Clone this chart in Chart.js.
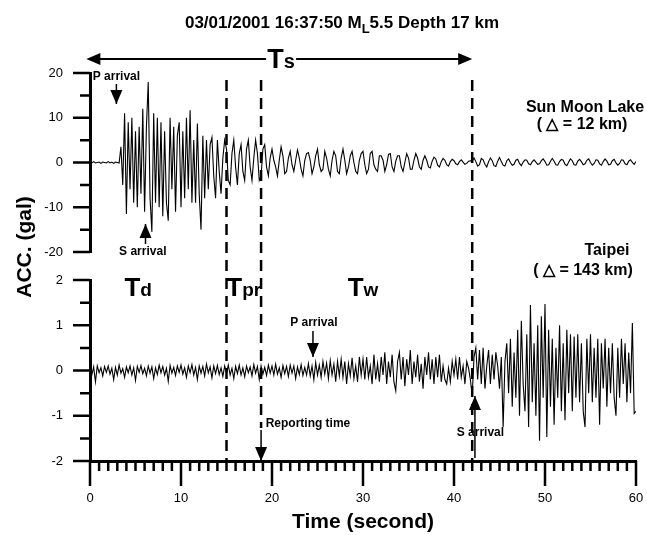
<!DOCTYPE html>
<html lang="en">
<head>
  <meta charset="UTF-8">
  <title>Sun Moon Lake / Taipei accelerograms</title>
  <script src="https://cdn.jsdelivr.net/npm/chart.js"></script>
  <style>
    body { margin: 0; background: #fff; }
    #wrap { width: 647px; height: 535px; }
  </style>
</head>
<body>
  <div id="wrap"><canvas id="quakeChart" width="647" height="535"></canvas></div>

  <script>
    // sample interval of the traces (s)
    const DT = 0.2;

    // Sun Moon Lake acceleration (gal), one value every DT from 0 s
    const sunMoonLake = [
      0.1, -0.1, 0.2, -0.1, 0, 0.1, -0.2, 0.1, 0, -0.1,
      0.2, -0.1, 0.1, -0.2, 0.1, 0, -0.1, 3.5, -5, 11,
      -11.5, 9, -6, 10, -9, 7, -10, 8, -7, 12,
      -11, 8, 18, -8, -15.5, 11, -9, 10, -10, 9,
      -12, 7, -9, -13, 10, -6, 8, -11, 6, 9,
      -10, 7, -8, 10, -6, 11.7, -9, 5, -9, 8.7,
      -7, -15, 6, -8, 5, -6, 4, 5.6, -3, -8,
      5, -2, -7, 1, 5, 3, -4, -5, 2, 5,
      -1, -5, 2, 4, -2, -4, 3, 5, -1, -4,
      1, 5, 2, -4, -3, 3, 4, -1, -3, 1,
      3, 0.5, -1, -3, 0.5, 3.5, 1.5, -2.5, -2, 1,
      2.5, -0.5, -2, 0.5, 2.8, 1, -1.5, -3, 0.5, 2,
      2.2, 0.5, -2.5, -1, 1.5, 3, -0.5, -2, -1.5, 2.5,
      1, -1.5, -3, 0.5, 2.5, 1.5, -2, -2.5, 1, 3,
      0.5, -2.5, -1, 1.5, 2.5, 0, -2, -2.5, 0.5, 2,
      2.5, -0.5, -2.5, -1.5, 2, 2.5, -0.5, -1.5, -2, 1.5,
      1.5, 0.5, -2, -0.5, 1.8, 2, -1, -2, 0.3, 1.5,
      1.5, -1, -2, 0, 2, 1, -1.5, -1.5, 0.5, 2,
      1, -1, -1.5, 0.5, 1.5, 0.5, -1, -1.2, 0.3, 1.2,
      0.8, -0.6, -1, 0.2, 0.9, 0.5, -0.5, -0.8, 0.2, 0.7,
      0.4, -0.3, -0.5, 0.2, 0.6, 0.1, -0.4, -0.2, 0.3, 0.4,
      0.3, 1, 0.2, -0.8, -0.5, 0.9, 0.6, -0.4, -1, 0.2,
      1, 0.4, -0.7, -0.9, 0.3, 1.1, 0.2, -0.6, -0.8, 0.4,
      0.8, 0, -0.6, -0.4, 0.5, 0.7, -0.2, -0.7, 0.1, 0.6,
      0.5, -0.3, -0.5, 0.2, 0.6, 0.1, -0.4, -0.3, 0.4, 0.8,
      0.2, -0.6, -0.5, 0.3, 0.9, 0.3, -0.5, -0.6, 0.2, 0.7,
      0.5, -0.4, -0.7, 0.1, 0.8, 0.4, -0.5, -0.6, 0.3, 0.7,
      0.2, -0.5, -0.3, 0.5, 0.8, 0, -0.6, -0.2, 0.6, 0.5,
      -0.3, -0.6, 0.2, 0.8, 0.3, -0.5, -0.4, 0.4, 0.7, -0.1,
      -0.6, -0.2, 0.6, 0.5, -0.3, -0.5, 0.3, 0.6, 0, -0.4,
      0.2
    ];

    // Taipei acceleration (gal), same time base
    const taipei = [
      0.05, -0.1, 0.08, -0.25, 0.1, -0.05, 0.06, -0.12, 0.09, -0.04,
      0.1, -0.08, 0.05, -0.2, 0.07, -0.1, 0.12, -0.06, 0.04, -0.15,
      0.08, -0.05, 0.1, -0.1, 0.06, -0.22, 0.09, -0.04, 0.11, -0.07,
      0.05, -0.12, 0.1, -0.06, 0.08, -0.18, 0.06, -0.09, 0.12, -0.05,
      0.09, -0.1, 0.05, -0.24, 0.11, -0.06, 0.07, -0.11, 0.1, -0.04,
      0.12, -0.08, 0.06, -0.15, 0.1, -0.05, 0.13, -0.1, 0.07, -0.2,
      0.1, -0.06, 0.09, -0.12, 0.14, -0.05, 0.08, -0.16, 0.1, -0.07,
      0.11, -0.09, 0.06, -0.13, 0.1, -0.06, 0.12, -0.1, 0.05, -0.18,
      0.09, -0.07, 0.12, -0.1, 0.06, -0.14, 0.1, -0.05, 0.08, -0.12,
      0.13, -0.06, 0.09, -0.2, 0.1, -0.08, 0.07, -0.11, 0.12, -0.06,
      0.1, -0.1, 0.14, -0.08, 0.06, -0.15, 0.11, -0.07, 0.09, -0.13,
      0.12, -0.06, 0.1, -0.18, 0.08, -0.09, 0.13, -0.11, 0.07, -0.1,
      0.15, -0.12, 0.1, -0.2, 0.18, -0.1, 0.12, -0.15, 0.2, -0.08,
      0.16, -0.18, 0.22, -0.1, 0.14, -0.25, 0.2, -0.12, 0.25, -0.15,
      0.2, -0.3, 0.15, -0.12, 0.28, -0.18, 0.1, -0.25, 0.3, -0.1,
      0.25, -0.2, 0.3, -0.15, 0.1, -0.3, 0.35, -0.2, 0.15, -0.25,
      0.3, -0.1, 0.4, -0.3, 0.2, -0.15, 0.35, -0.25, -0.45, 0.2,
      0.4, -0.2, 0.3, -0.35, 0.25, -0.1, 0.45, -0.3, 0.2, -0.15,
      0.35, -0.25, 0.15, -0.4, 0.3, -0.1, 0.4, -0.2, 0.25, -0.3,
      0.3, -0.15, 0.35, -0.25, 0.1, -0.2, -0.3, 0.05, -0.25, 0.2,
      -0.1, 0.25, -0.2, 0.3, -0.15, 0.1, -0.3, 0.2, 0.05, -0.2,
      -0.55, 0.3, 0.5, -0.2, 0.45, -0.3, 0.5, -0.4, 0.1, 0.45,
      -0.3, 0.35, -0.2, 0.4, 0.1, -0.4, 0.3, -1.25, 0.2, 0.6,
      -0.5, 0.7, -0.8, 0.4, -0.6, 0.9, -1.0, 1.1, -0.3, -0.9,
      0.8, -1.25, 1.45, -0.7, 0.6, -1.0, 1.0, -1.55, 1.2, -0.6,
      1.47, -1.47, 0.9, -0.8, 0.7, -1.2, 0.5, -0.6, 1.0, -0.9,
      0.6, -1.1, 0.9, -0.5, 0.8, -0.9, 0.75, -0.6, 0.8, -0.7,
      0.6, -0.9, -1.25, 0.7, -0.5, 0.8, -0.7, 0.5, -0.6, 0.7,
      -1.2, 0.6, -0.4, 0.7, -0.8, 0.5, -0.5, 0.6, -0.6, -1.0,
      0.5, -0.6, 0.7, -0.3, 0.6, -0.7, 0.4, -0.5, 1.05, -0.95,
      -0.9
    ];

    const xTicks = [0, 10, 20, 30, 40, 50, 60];
    const topTicks = [-20, -10, 0, 10, 20];
    const botTicks = [-2, -1, 0, 1, 2];

    // dashed markers (s): end of Td, reporting time, S arrival in Taipei
    const markerTimes = [15, 18.8, 42];

    const FONT = '"Liberation Sans", Arial, sans-serif';

    function toPoints(arr) {
      return arr.map((v, i) => ({ x: Math.round(i * DT * 10) / 10, y: v }));
    }

    function label(ctx, s, x, y, size, align) {
      ctx.font = 'bold ' + size + 'px ' + FONT;
      ctx.textAlign = align || 'center';
      ctx.textBaseline = 'middle';
      ctx.fillText(s, x, y);
    }

    // pieces of text with their own size and vertical shift, centred on cx
    function compound(ctx, parts, cx, base) {
      let w = 0;
      parts.forEach(p => { ctx.font = 'bold ' + p[1] + 'px ' + FONT; w += ctx.measureText(p[0]).width; });
      let x = cx - w / 2;
      ctx.textAlign = 'left';
      ctx.textBaseline = 'alphabetic';
      parts.forEach(p => {
        ctx.font = 'bold ' + p[1] + 'px ' + FONT;
        ctx.fillText(p[0], x, base + (p[2] || 0));
        x += ctx.measureText(p[0]).width;
      });
      return w;
    }

    function head(ctx, x, y, dir) {
      const L = 14, H = 6;
      ctx.beginPath();
      ctx.moveTo(x, y);
      if (dir === 'down') { ctx.lineTo(x - H, y - L); ctx.lineTo(x + H, y - L); }
      if (dir === 'up') { ctx.lineTo(x - H, y + L); ctx.lineTo(x + H, y + L); }
      if (dir === 'left') { ctx.lineTo(x + L, y - H); ctx.lineTo(x + L, y + H); }
      if (dir === 'right') { ctx.lineTo(x - L, y - H); ctx.lineTo(x - L, y + H); }
      ctx.closePath();
      ctx.fill();
    }

    function arrow(ctx, x, y0, y1) {
      ctx.lineWidth = 1.5;
      ctx.beginPath(); ctx.moveTo(x, y0); ctx.lineTo(x, y1); ctx.stroke();
      head(ctx, x, y1, y1 > y0 ? 'down' : 'up');
    }

    const overlay = {
      id: 'overlay',
      afterDraw(chart) {
        const { ctx, scales: { x, yTop, yBot } } = chart;
        const area = chart.chartArea;
        ctx.save();
        ctx.fillStyle = '#000';
        ctx.strokeStyle = '#000';

        // tick marks
        ctx.lineWidth = 2.5;
        ctx.beginPath();
        for (let t = 0; t <= 60; t++) {
          const px = x.getPixelForValue(t);
          ctx.moveTo(px, area.bottom);
          ctx.lineTo(px, area.bottom + (t % 10 === 0 ? 25 : 10));
        }
        [[yTop, 5], [yBot, 0.5]].forEach(([s, step]) => {
          for (let v = s.min; v <= s.max + 1e-9; v += step) {
            const py = s.getPixelForValue(v);
            const major = Math.abs(v / (step * 2) - Math.round(v / (step * 2))) < 1e-6;
            ctx.moveTo(area.left - (major ? 17 : 10), py);
            ctx.lineTo(area.left, py);
          }
        });
        ctx.stroke();

        // dashed vertical markers
        ctx.lineWidth = 2.5;
        ctx.setLineDash([11, 7]);
        ctx.beginPath();
        markerTimes.forEach(t => {
          const px = x.getPixelForValue(t);
          ctx.moveTo(px, 80);
          ctx.lineTo(px, t === 18.8 ? 428 : area.bottom);
        });
        ctx.stroke();
        ctx.setLineDash([]);

        // Ts span arrow
        const x0 = x.getPixelForValue(-0.4), x1 = x.getPixelForValue(42);
        ctx.lineWidth = 2;
        ctx.beginPath(); ctx.moveTo(x0 + 6, 59); ctx.lineTo(x1 - 6, 59); ctx.stroke();
        head(ctx, x0, 59, 'left');
        head(ctx, x1, 59, 'right');
        const xs = x.getPixelForValue(21);
        ctx.fillStyle = '#fff';
        ctx.fillRect(xs - 15, 46, 30, 26);
        ctx.fillStyle = '#000';
        compound(ctx, [['T', 27], ['s', 20]], xs, 68);

        // title
        compound(ctx, [['03/01/2001 16:37:50 M', 17], ['L', 13, 5], ['5.5 Depth 17 km', 17]], 342, 28);

        // station names
        label(ctx, 'Sun Moon Lake', 585, 108, 16);
        label(ctx, '( \u25B3 = 12 km)', 582, 125, 16);
        label(ctx, 'Taipei', 607, 251, 16);
        label(ctx, '( \u25B3 = 143 km)', 583, 271, 16);

        // time windows
        compound(ctx, [['T', 26], ['d', 19]], x.getPixelForValue(5.3), 296);
        compound(ctx, [['T', 26], ['pr', 19]], x.getPixelForValue(16.9), 296);
        compound(ctx, [['T', 26], ['w', 19]], x.getPixelForValue(30), 296);

        // phase annotations
        ctx.lineWidth = 1.5;
        label(ctx, 'P arrival', x.getPixelForValue(0.3), 77, 12, 'left');
        arrow(ctx, x.getPixelForValue(2.9), 84, 104);
        label(ctx, 'S arrival', x.getPixelForValue(5.8), 252, 12);
        arrow(ctx, x.getPixelForValue(6.1), 244, 224);
        label(ctx, 'P arrival', x.getPixelForValue(24.6), 323, 12);
        arrow(ctx, x.getPixelForValue(24.5), 331, 357);
        label(ctx, 'Reporting time', x.getPixelForValue(19.3), 424, 12, 'left');
        arrow(ctx, x.getPixelForValue(18.8), 430, area.bottom);
        label(ctx, 'S arrival', x.getPixelForValue(42.9), 433, 12);
        arrow(ctx, x.getPixelForValue(42.3), 458, 396);

        // y title spanning both panels
        ctx.translate(25, 247);
        ctx.rotate(-Math.PI / 2);
        label(ctx, 'ACC. (gal)', 0, 0, 21);
        ctx.restore();
      }
    };

    const tickFont = { family: FONT, size: 13 };

    new Chart(document.getElementById('quakeChart'), {
      type: 'line',
      data: {
        datasets: [
          {
            label: 'Sun Moon Lake',
            data: toPoints(sunMoonLake),
            yAxisID: 'yTop',
            borderColor: '#000',
            borderWidth: 1.1,
            pointRadius: 0,
            tension: 0
          },
          {
            label: 'Taipei',
            data: toPoints(taipei),
            yAxisID: 'yBot',
            borderColor: '#000',
            borderWidth: 1.1,
            pointRadius: 0,
            tension: 0
          }
        ]
      },
      options: {
        responsive: false,
        animation: false,
        devicePixelRatio: 1,
        layout: { autoPadding: false, padding: { top: 73, right: 11, left: 0, bottom: 0 } },
        plugins: {
          legend: { display: false },
          tooltip: { enabled: false }
        },
        scales: {
          x: {
            type: 'linear',
            min: 0,
            max: 60,
            afterBuildTicks: s => { s.ticks = xTicks.map(v => ({ value: v })); },
            afterFit: s => { s.height = 535 - 461; s.paddingRight = 0; s.paddingLeft = 0; },
            grid: { display: false, drawTicks: false },
            border: { display: true, width: 3, color: '#000' },
            ticks: { color: '#000', font: tickFont, padding: 30, maxRotation: 0 },
            title: {
              display: true,
              text: 'Time (second)',
              color: '#000',
              font: { family: FONT, size: 21, weight: 'bold' },
              padding: { top: 0, bottom: 0 }
            }
          },
          yBot: {
            type: 'linear',
            position: 'left',
            stack: 'panels',
            stackWeight: 181,
            min: -2,
            max: 2,
            afterBuildTicks: s => { s.ticks = botTicks.map(v => ({ value: v })); },
            afterFit: s => { s.width = 90; },
            grid: { display: false, drawTicks: false },
            border: { display: true, width: 3, color: '#000' },
            ticks: { color: '#000', font: tickFont, padding: 27 }
          },
          yGap: {
            type: 'linear',
            position: 'left',
            stack: 'panels',
            stackWeight: 28,
            display: false
          },
          yTop: {
            type: 'linear',
            position: 'left',
            stack: 'panels',
            stackWeight: 179,
            min: -20,
            max: 20,
            afterBuildTicks: s => { s.ticks = topTicks.map(v => ({ value: v })); },
            afterFit: s => { s.width = 90; },
            grid: { display: false, drawTicks: false },
            border: { display: true, width: 3, color: '#000' },
            ticks: { color: '#000', font: tickFont, padding: 27 }
          }
        }
      },
      plugins: [overlay]
    });
  </script>
</body>
</html>
